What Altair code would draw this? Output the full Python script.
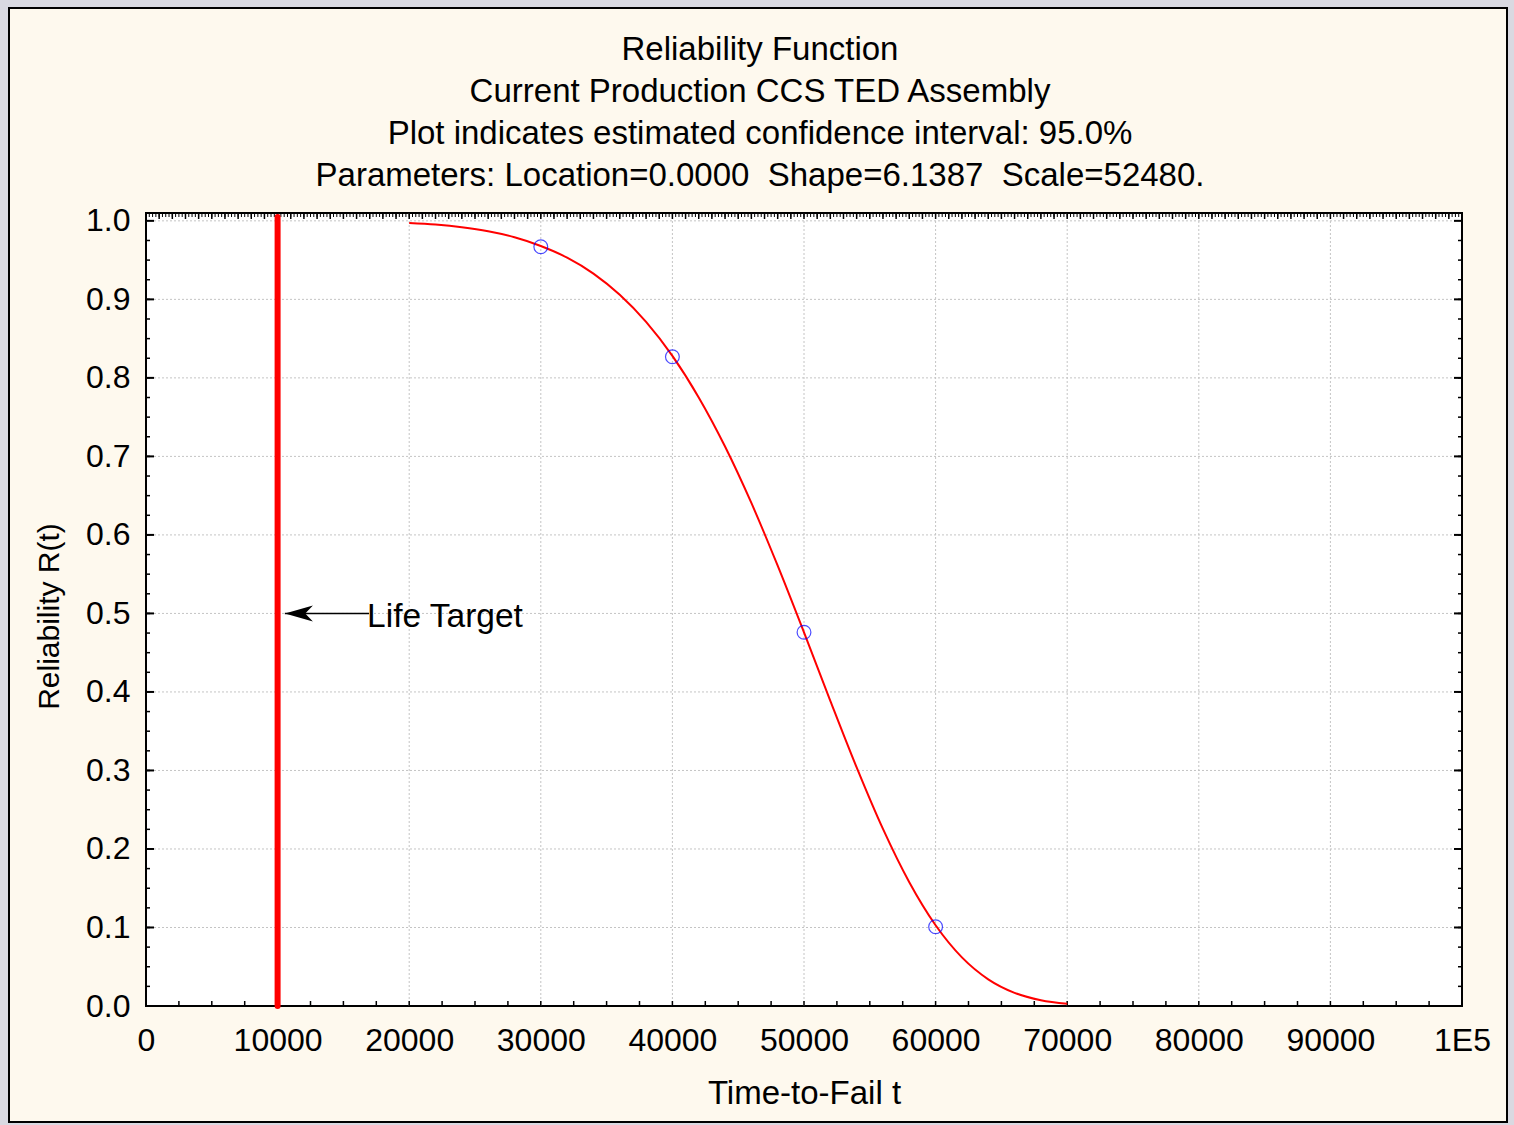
import altair as alt
import pandas as pd
import numpy as np

FONT = "Liberation Sans"
CREAM = "#FEF9EE"
OUTER = "#D9D9E1"

TITLE_LINES = [
    "Reliability Function",
    "Current Production CCS TED Assembly",
    "Plot indicates estimated confidence interval: 95.0%",
    "Parameters: Location=0.0000\u00a0\u00a0Shape=6.1387\u00a0\u00a0Scale=52480.",
]

# fitted reliability curve
curve_t = [20000, 22000, 24000, 26000, 28000, 30000, 32000, 34000, 36000, 38000,
           40000, 42000, 44000, 46000, 48000, 50000, 52000, 54000, 56000, 58000,
           60000, 62000, 64000, 66000, 68000, 70000]
curve_r = [0.9973, 0.9952, 0.9918, 0.9867, 0.9791, 0.9680, 0.9531, 0.9328, 0.9058, 0.8713,
           0.8280, 0.7751, 0.7126, 0.6407, 0.5608, 0.4758, 0.3887, 0.3039, 0.2255, 0.1576,
           0.1028, 0.0619, 0.0340, 0.0168, 0.0074, 0.0028]

# observed points
obs_t = [30000, 40000, 50000, 60000]
obs_r = [0.967, 0.827, 0.476, 0.101]

# life target
target_t = [10000]
target_label = ["Life Target"]
arrow_from = [16950]
arrow_to = [10550]
arrow_head_x = [11620]
label_x = [16800]
label_y = [0.5]

X_TICKS = [0, 10000, 20000, 30000, 40000, 50000, 60000, 70000, 80000, 90000, 100000]
Y_TICKS = [0.0, 0.1, 0.2, 0.3, 0.4, 0.5, 0.6, 0.7, 0.8, 0.9, 1.0]
X_GRID = X_TICKS[1:-1]
Y_GRID = Y_TICKS[1:]

X_MINOR_BOTTOM = list(np.arange(2500, 100000, 2500))
X_MINOR_TOP = list(np.arange(250, 100000, 250))
X_MAJOR_TOP = list(np.arange(1000, 100000, 1000))
Y_MINOR = list(np.round(np.arange(0.025, 1.0, 0.025), 3))
Y_MAJOR = Y_TICKS[1:]

W, H = 1316, 793
PADL, PADT = 146, 213

xs = alt.Scale(domain=[0, 100000], nice=False, zero=False)
ys = alt.Scale(domain=[0, 1.01], nice=False, zero=False)
one = pd.DataFrame({"k": [0]})

X_AX = alt.Axis(
    values=X_TICKS, labelExpr="datum.value == 100000 ? '1E5' : format(datum.value, 'd')",
    domain=False, ticks=False, tickSize=0, grid=False, labelFlush=False,
    labelFont=FONT, labelFontSize=32, labelColor="#000000", labelPadding=19,
    title="Time-to-Fail t", titleFont=FONT, titleFontSize=33, titleFontWeight="normal",
    titleColor="#000000", titleBaseline="alphabetic", titleY=97, zindex=1)
Y_AX = alt.Axis(
    values=Y_TICKS, format=".1f", domain=False, ticks=False, tickSize=0, grid=False,
    labelFlush=False, labelFont=FONT, labelFontSize=32, labelColor="#000000", labelPadding=16,
    title="Reliability R(t)", titleFont=FONT, titleFontSize=30, titleFontWeight="normal",
    titleColor="#000000", titleBaseline="alphabetic", titleX=-88, titleY=403,
    titleAngle=270, zindex=1)


def X(field):
    return alt.X(field, type="quantitative", scale=xs, axis=X_AX)


def Y(field):
    return alt.Y(field, type="quantitative", scale=ys, axis=Y_AX)


bg = alt.Chart(one).mark_rect(fill=CREAM, stroke="#000000", strokeWidth=2).encode(
    x=alt.value(9 - PADL), x2=alt.value(1507 - PADL),
    y=alt.value(8 - PADT), y2=alt.value(1122 - PADT))

plot_bg = alt.Chart(one).mark_rect(fill="#FFFFFF", stroke="#000000", strokeWidth=2).encode(
    x=alt.value(0), x2=alt.value(W), y=alt.value(0), y2=alt.value(H))

grid_x = alt.Chart(pd.DataFrame({"t": X_GRID})).mark_rule(
    color="#C4C4C4", strokeDash=[2, 2], strokeWidth=1).encode(
    x=X("t"), y=alt.value(0), y2=alt.value(H))
grid_y = alt.Chart(pd.DataFrame({"r": Y_GRID})).mark_rule(
    color="#C4C4C4", strokeDash=[2, 2], strokeWidth=1).encode(
    y=Y("r"), x=alt.value(0), x2=alt.value(W))


def xticks(vals, y1, y2, sw):
    return alt.Chart(pd.DataFrame({"t": vals})).mark_rule(color="#000000", strokeWidth=sw).encode(
        x=X("t"), y=alt.value(y1), y2=alt.value(y2))


def yticks(vals, x1, x2, sw):
    return alt.Chart(pd.DataFrame({"r": vals})).mark_rule(color="#000000", strokeWidth=sw).encode(
        y=Y("r"), x=alt.value(x1), x2=alt.value(x2))


ticks = [
    xticks(X_MINOR_BOTTOM, H, H - 5, 1.5),
    xticks(X_MINOR_TOP, 0, 4, 1),
    xticks(X_MAJOR_TOP, 0, 6, 1.5),
    yticks(Y_MINOR, 0, 4, 1.5),
    yticks(Y_MAJOR, 0, 8, 2),
    yticks(Y_MINOR, W, W - 4, 1.5),
    yticks(Y_MAJOR, W, W - 8, 2),
]

life = alt.Chart(pd.DataFrame({"t": target_t, "r": [0.0], "r2": [1.005]})).mark_rule(
    color="#FF0000", strokeWidth=6, strokeCap="round").encode(
    x=X("t"), y=Y("r"), y2="r2:Q")

curve = alt.Chart(pd.DataFrame({"t": curve_t, "r": curve_r})).mark_line(
    color="#FF0000", strokeWidth=2, interpolate="monotone").encode(x=X("t"), y=Y("r"))

points = alt.Chart(pd.DataFrame({"t": obs_t, "r": obs_r})).mark_point(
    shape="circle", filled=False, color="#0000FF", size=190, strokeWidth=1.2).encode(
    x=X("t"), y=Y("r"))

arrow_line = alt.Chart(pd.DataFrame({"t": arrow_from, "t2": arrow_to, "r": label_y})).mark_rule(
    color="#000000", strokeWidth=1.5).encode(x=X("t"), x2="t2:Q", y=Y("r"))

arrow_head = alt.Chart(pd.DataFrame({"t": arrow_head_x, "r": label_y})).mark_point(
    shape="M-1,0L1,-0.57L0.45,0L1,0.57Z", filled=True, color="#000000", size=784,
    strokeWidth=0, opacity=1).encode(x=X("t"), y=Y("r"))

label = alt.Chart(pd.DataFrame({"t": label_x, "r": label_y, "txt": target_label})).mark_text(
    align="left", baseline="middle", dy=4, font=FONT, fontSize=33.5, color="#000000").encode(
    x=X("t"), y=Y("r"), text="txt:N")

chart = alt.layer(bg, plot_bg, grid_x, grid_y, *ticks, life, curve, points,
                  arrow_line, arrow_head, label).properties(
    width=W, height=H,
    title=alt.TitleParams(text=TITLE_LINES, font=FONT, fontSize=33, fontWeight="normal",
                          color="#000000", anchor="middle", frame="group", dx=-44,
                          lineHeight=42, baseline="bottom", offset=-219, zindex=1),
    autosize=alt.AutoSizeParams(type="none"),
    padding={"left": PADL, "top": PADT, "right": 1514 - PADL - W, "bottom": 1125 - PADT - H},
    background=OUTER,
).configure_view(stroke=None)

chart.save("out.html", embed_options={"renderer": "svg", "actions": False})
